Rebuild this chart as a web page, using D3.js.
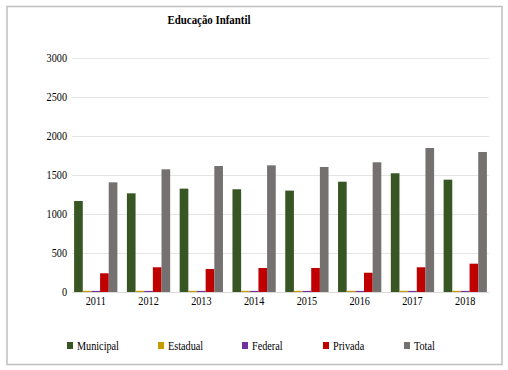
<!DOCTYPE html>
<html>
<head>
<meta charset="utf-8">
<script src="https://cdn.jsdelivr.net/npm/d3@7"></script>
<style>
  body { margin: 0; background: #fff; }
</style>
</head>
<body>
<div id="chart"></div>
<script>
const years = ["2011", "2012", "2013", "2014", "2015", "2016", "2017", "2018"];
const seriesNames = ["Municipal", "Estadual", "Federal", "Privada", "Total"];
const municipal = [1167, 1265, 1325, 1317, 1300, 1414, 1522, 1440];
const estadual = [15, 15, 15, 15, 15, 15, 15, 15];
const federal = [14, 14, 14, 14, 14, 14, 14, 14];
const privada = [240, 317, 295, 308, 308, 247, 317, 363];
const total = [1406, 1573, 1615, 1624, 1603, 1663, 1846, 1795];
const yTicks = [0, 500, 1000, 1500, 2000, 2500, 3000];

const colors = {
    "Municipal": "#375623",
    "Estadual": "#c59b00",
    "Federal": "#7030a0",
    "Privada": "#c00000",
    "Total": "#767171",
};
const serif = '"Liberation Serif", "Times New Roman", serif';

const values = [municipal, estadual, federal, privada, total];
const data = years.map((yr, i) => ({
    year: yr,
    vals: seriesNames.map((s, j) => ({ name: s, value: values[j][i] }))
}));

const width = 508;
const height = 370;
const margins = { top: 58, right: 19, bottom: 78, left: 72 };

const svg = d3.select("#chart")
    .append("svg")
    .attr("width", width)
    .attr("height", height);

// the original text looks horizontally squeezed
squeeze = (sel, k) => {
    sel.each(function () {
        const len = this.getComputedTextLength();
        d3.select(this)
            .attr("textLength", len * k)
            .attr("lengthAdjust", "spacingAndGlyphs");
    });
}

// outer frame
svg.append("rect")
    .attr("x", 7)
    .attr("y", 6.5)
    .attr("width", 495)
    .attr("height", 358)
    .attr("fill", "#fff")
    .attr("stroke", "#bfbfbf")
    .attr("stroke-width", 1.5);

svg.append("text")
    .attr("x", 209)
    .attr("y", 24)
    .attr("text-anchor", "middle")
    .attr("font-size", 13)
    .attr("font-weight", "bold")
    .style("font-family", serif)
    .attr("textLength", 83)
    .attr("lengthAdjust", "spacingAndGlyphs")
    .text("Educação Infantil");

const x0 = d3.scaleBand()
    .domain(years)
    .range([margins.left, width - margins.right])
    .paddingInner(0.18)
    .paddingOuter(0.04);
const x1 = d3.scaleBand()
    .domain(seriesNames)
    .range([0, x0.bandwidth()]);
const y = d3.scaleLinear()
    .domain([0, 3000])
    .range([height - margins.bottom, margins.top]);

// grid
svg.append("g")
    .selectAll("line")
    .data(yTicks)
    .join("line")
    .attr("x1", margins.left)
    .attr("x2", width - margins.right)
    .attr("y1", d => y(d) + 0.5)
    .attr("y2", d => y(d) + 0.5)
    .attr("stroke", "#e4e4e4")
    .attr("stroke-width", 1);

const gy = svg.append("g")
    .attr("transform", `translate(${margins.left - 3},0)`)
    .call(d3.axisLeft(y).tickValues(yTicks).tickFormat(d3.format("d")).tickSize(0).tickPadding(2))
    .call(g => g.select(".domain").remove());
gy.selectAll("text")
    .attr("font-size", 12)
    .style("font-family", serif)
    .attr("fill", "#000")
    .call(squeeze, 0.85);

const groups = svg.append("g")
    .selectAll("g")
    .data(data)
    .join("g")
    .attr("transform", d => `translate(${x0(d.year)},0)`);

groups.selectAll("rect")
    .data(d => d.vals)
    .join("rect")
    .attr("x", d => x1(d.name))
    .attr("y", d => y(d.value))
    .attr("width", x1.bandwidth())
    .attr("height", d => y(0) - y(d.value))
    .attr("fill", d => colors[d.name]);

svg.append("line")
    .attr("x1", margins.left)
    .attr("x2", width - margins.right)
    .attr("y1", y(0) + 0.5)
    .attr("y2", y(0) + 0.5)
    .attr("stroke", "#d9d9d9");

const gx = svg.append("g")
    .attr("transform", `translate(0,${y(0)})`)
    .call(d3.axisBottom(x0).tickSize(0).tickPadding(4))
    .call(g => g.select(".domain").remove());
gx.selectAll("text")
    .attr("font-size", 12)
    .style("font-family", serif)
    .attr("fill", "#000")
    .call(squeeze, 0.85);

// legend
const legendX = [67, 158, 242, 323, 404];
const legend = svg.append("g")
    .selectAll("g")
    .data(seriesNames)
    .join("g")
    .attr("transform", (d, i) => `translate(${legendX[i]},342)`);
legend.append("rect")
    .attr("width", 6)
    .attr("height", 7)
    .attr("fill", d => colors[d]);
legend.append("text")
    .attr("x", 10)
    .attr("y", 8)
    .attr("font-size", 12)
    .style("font-family", serif)
    .text(d => d)
    .call(squeeze, 0.85);
</script>
</body>
</html>
